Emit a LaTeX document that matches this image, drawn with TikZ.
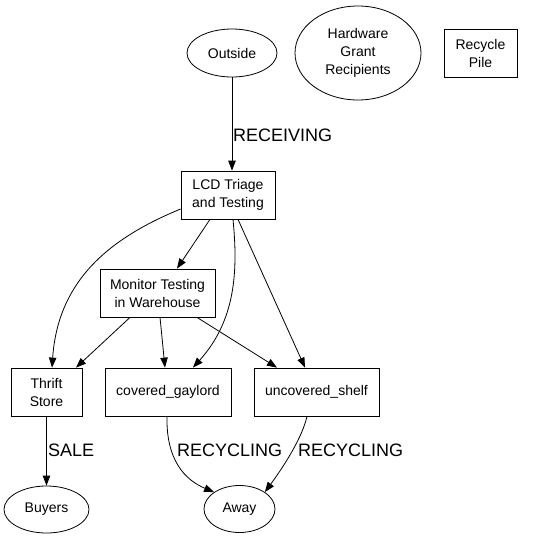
\documentclass[tikz,border=0pt]{standalone}
\usepackage{fontspec}
\setmainfont{Liberation Sans}
\usetikzlibrary{arrows.meta,shapes.geometric}
\tikzset{
  box/.style={draw, rectangle, line width=0.8pt, minimum height=48pt, inner sep=0pt, align=center, font=\fontsize{14}{18}\selectfont},
  oval/.style={draw, ellipse, line width=0.8pt, inner sep=0pt, align=center, font=\fontsize{14}{18}\selectfont},
  edge/.style={line width=0.8pt, -{Triangle[length=10pt,width=7.5pt]}},
  elabel/.style={font=\fontsize{18}{20}\selectfont, inner sep=0pt}
}
\begin{document}
\begin{tikzpicture}[x=1pt,y=-1pt]
\useasboundingbox (0,0) rectangle (535,539);
% nodes
\node[oval, minimum width=90pt, minimum height=48pt] (outside) at (232,53) {Outside};
\node[oval, minimum width=126pt, minimum height=94pt] (hgr) at (358,53) {Hardware\\Grant\\Recipients};
\node[box, minimum width=73pt] (recycle) at (480.5,53) {Recycle\\Pile};
\node[box, minimum width=94pt] (lcd) at (228,195) {LCD Triage\\and Testing};
\node[box, minimum width=115pt] (monitor) at (157.5,293) {Monitor Testing\\in Warehouse};
\node[box, minimum width=71pt] (thrift) at (46.5,392) {Thrift\\Store};
\node[box, minimum width=126pt] (covered) at (168,392) {covered\_gaylord};
\node[box, minimum width=125pt] (uncovered) at (316.5,392) {uncovered\_shelf};
\node[oval, minimum width=85pt, minimum height=47pt] (buyers) at (46.5,509.5) {Buyers};
\node[oval, minimum width=71pt, minimum height=47pt] (away) at (239.5,509) {Away};
% edge labels
\node[elabel, anchor=west] (lrec) at (233,135) {RECEIVING};
\node[elabel, anchor=west] (lsale) at (48,450) {SALE};
\node[elabel, anchor=west] (lrc1) at (177,450) {RECYCLING};
\node[elabel, anchor=west] (lrc2) at (298,450) {RECYCLING};
% edges
\draw[edge] (outside.south) -- (lcd.north -| outside.south);
\draw[edge] (lcd.west |- 0,209) .. controls (110,238) and (58,280) .. (thrift.north -| 52,0);
\draw[edge] (lcd.south -| 210,0) -- (monitor.north -| 177,0);
\draw[edge] (lcd.south -| 233,0) .. controls (238,270) and (236,320) .. (covered.north -| 193,0);
\draw[edge] (lcd.south -| 238,0) -- (uncovered.north -| 305,0);
\draw[edge] (monitor.south -| 130,0) -- (thrift.north -| 76,0);
\draw[edge] (monitor.south -| 160,0) -- (covered.north -| 165,0);
\draw[edge] (monitor.south -| 197,0) -- (uncovered.north -| 277,0);
\draw[edge] (thrift.south) -- (buyers.north);
\draw[edge] (covered.south -| 167,0) .. controls (166,460) and (185,480) .. (away.north west);
\draw[edge] (uncovered.south -| 307,0) .. controls (302,438) and (284,466) .. (away.north east);
\end{tikzpicture}
\end{document}
